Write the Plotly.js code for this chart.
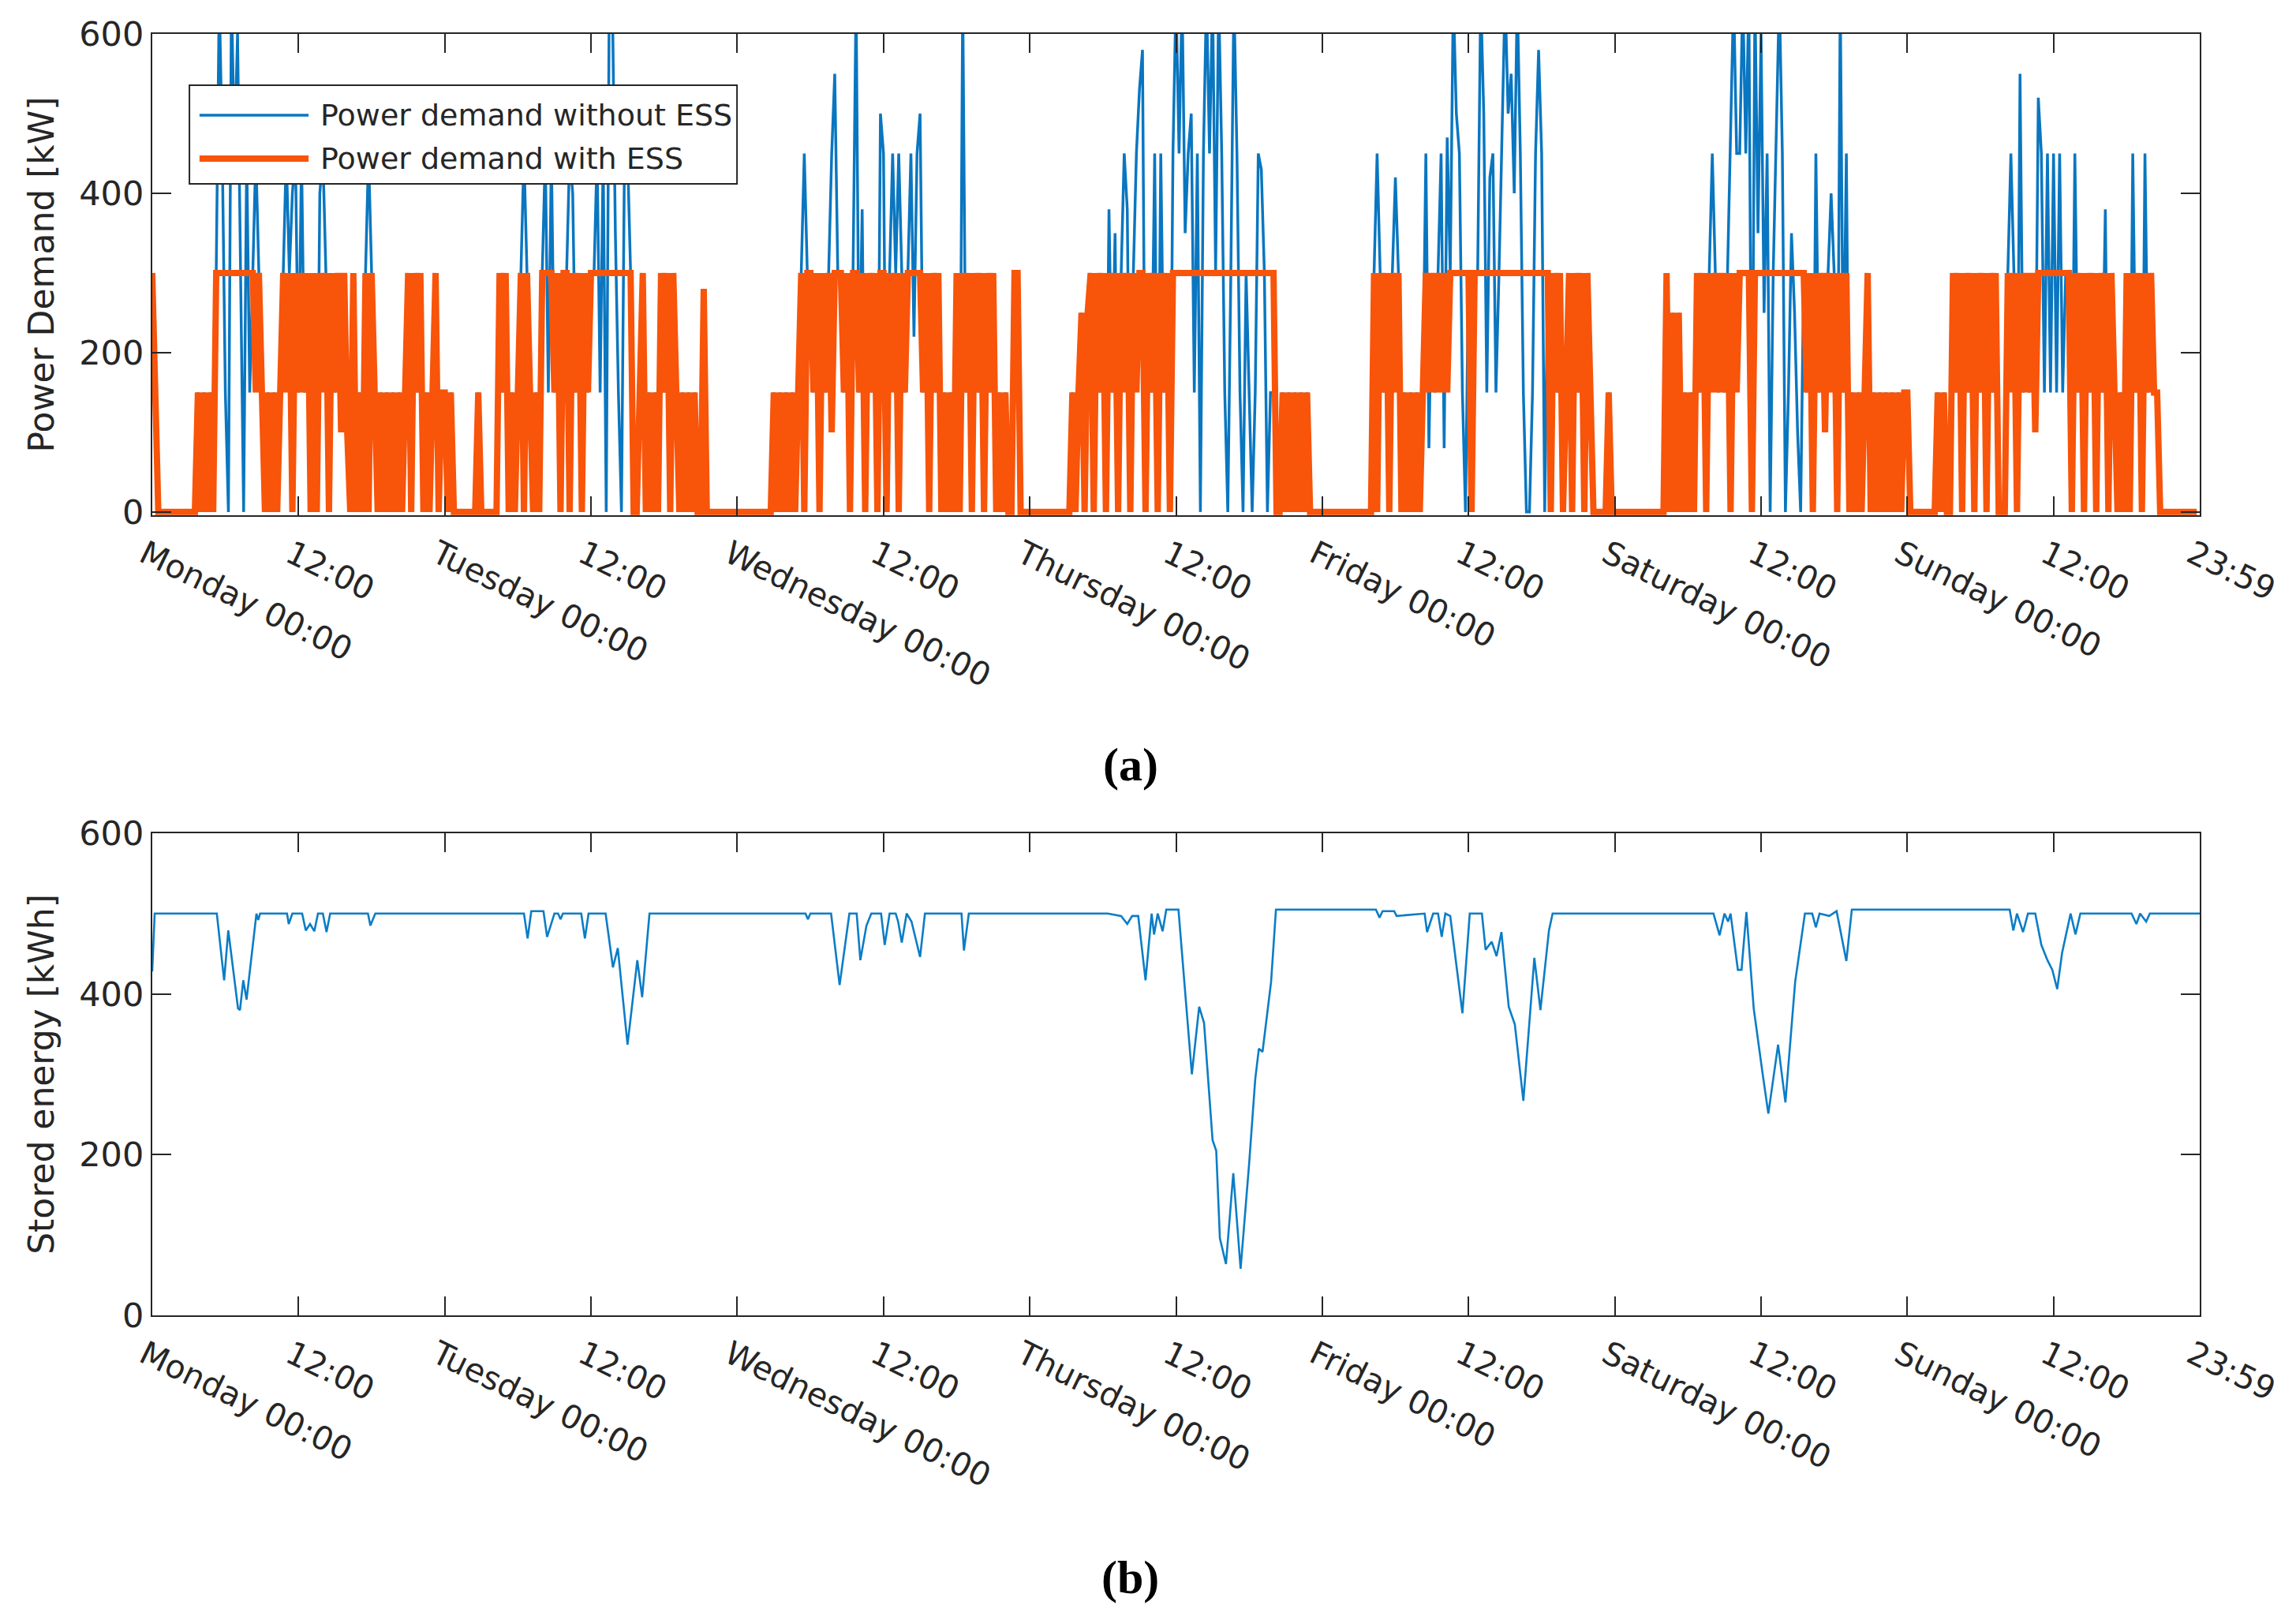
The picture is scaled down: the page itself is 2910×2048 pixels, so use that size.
<!DOCTYPE html>
<html>
<head>
<meta charset="utf-8">
<script src="https://cdn.plot.ly/plotly-3.0.1.min.js"></script>
<style>
html, body { margin: 0; padding: 0; background: #ffffff; }
#chart { width: 2910px; height: 2048px; }
</style>
</head>
<body>
<div id="chart"></div>
<script>
// Power demand, one value every 15 minutes (96 per day) [kW]
var withoutEssMon = [
  300,150,0,0,0,0,0,0,0,0,0,0,
  0,0,0,150,0,150,0,150,0,300,650,450,
  150,0,650,450,600,300,0,450,150,300,450,300,
  150,0,150,0,150,0,150,300,450,300,400,450,
  150,450,150,300,0,300,0,400,450,300,0,300,
  150,300,100,300,100,0,300,0,150,0,300,450,
  300,150,0,150,0,150,0,150,0,150,0,150,
  300,0,300,150,300,0,150,0,150,300,0,150];
var withEssMon = [
  300,150,0,0,0,0,0,0,0,0,0,0,
  0,0,0,150,0,150,0,150,0,300,300,300,
  300,300,300,300,300,300,300,300,300,300,150,300,
  150,0,150,0,150,0,150,300,150,300,0,300,
  150,300,150,300,0,300,0,300,150,300,0,300,
  150,300,100,300,100,0,300,0,150,0,300,0,
  300,150,0,150,0,150,0,150,0,150,0,150,
  300,0,300,150,300,0,150,0,150,300,0,150];

var withoutEssTue = [
  150,0,150,0,0,0,0,0,0,0,0,150,
  0,0,0,0,0,0,300,150,300,0,150,0,
  150,300,450,300,150,0,150,0,300,450,150,450,
  150,300,0,300,300,450,400,150,300,0,300,150,
  300,300,450,150,450,0,650,650,350,150,0,450,
  450,300,0,0,150,300,0,150,0,150,0,300,
  150,300,0,300,150,0,150,0,150,0,150,0,
  0,280,0,0,0,0,0,0,0,0,0,0];
var withEssTue = [
  150,0,150,0,0,0,0,0,0,0,0,150,
  0,0,0,0,0,0,300,150,300,0,150,0,
  150,300,0,300,150,0,150,0,300,300,300,300,
  150,300,0,300,300,0,300,150,300,0,300,150,
  300,300,300,300,300,300,300,300,300,300,300,300,
  300,300,0,0,150,300,0,150,0,150,0,300,
  150,300,0,300,150,0,150,0,150,0,150,0,
  0,280,0,0,0,0,0,0,0,0,0,0];

var withoutEssWed = [
  0,0,0,0,0,0,0,0,0,0,0,0,
  150,0,150,0,150,0,150,0,150,300,450,300,
  300,150,300,0,300,150,300,450,550,300,300,150,
  300,0,300,650,150,380,0,300,150,300,0,500,
  450,0,300,450,300,450,300,150,300,450,220,450,
  500,150,300,0,300,150,300,0,150,0,150,0,
  300,0,650,150,300,0,300,150,300,0,300,150,
  300,0,150,0,150,0,0,300,300,0,0,0];
var withEssWed = [
  0,0,0,0,0,0,0,0,0,0,0,0,
  150,0,150,0,150,0,150,0,150,300,0,300,
  300,150,300,0,300,150,300,100,300,300,300,150,
  300,0,300,300,150,300,0,300,150,300,0,300,
  300,0,300,150,300,0,300,150,300,300,300,300,
  300,150,300,0,300,150,300,0,150,0,150,0,
  300,0,300,150,300,0,300,150,300,0,300,150,
  300,0,150,0,150,0,0,300,300,0,0,0];

var withoutEssThu = [
  0,0,0,0,0,0,0,0,0,0,0,0,
  0,0,150,0,150,250,0,250,300,0,300,150,
  300,0,380,150,350,0,300,450,380,0,300,450,
  530,580,0,300,150,450,0,450,150,300,0,450,
  650,450,650,350,450,500,150,450,0,450,650,450,
  650,300,650,450,150,0,300,650,450,150,0,300,
  150,0,150,450,430,300,0,150,150,0,0,150,
  0,150,0,150,0,150,0,150,0,0,0,0];
var withEssThu = [
  0,0,0,0,0,0,0,0,0,0,0,0,
  0,0,150,0,150,250,0,250,300,0,300,150,
  300,0,300,150,300,0,300,150,300,0,300,150,
  300,300,0,300,150,300,0,300,150,300,0,300,
  300,300,300,300,300,300,300,300,300,300,300,300,
  300,300,300,300,300,300,300,300,300,300,300,300,
  300,300,300,300,300,300,300,300,300,0,0,150,
  0,150,0,150,0,150,0,150,0,0,0,0];

var withoutEssFri = [
  0,0,0,0,0,0,0,0,0,0,0,0,
  0,0,0,0,0,300,450,300,150,300,0,300,
  420,300,0,150,0,150,0,150,0,150,450,80,
  300,150,300,450,80,470,300,650,500,450,150,0,
  300,0,300,300,650,500,150,420,450,150,300,450,
  650,500,550,400,650,450,150,0,0,150,450,580,
  450,0,300,0,300,150,300,0,150,300,0,300,
  150,300,0,300,150,0,0,0,0,0,150,0];
var withEssFri = [
  0,0,0,0,0,0,0,0,0,0,0,0,
  0,0,0,0,0,300,0,300,150,300,0,300,
  150,300,0,150,0,150,0,150,0,150,300,150,
  300,150,300,150,300,150,300,300,300,300,300,300,
  300,0,300,300,300,300,300,300,300,300,300,300,
  300,300,300,300,300,300,300,300,300,300,300,300,
  300,300,300,0,300,150,300,0,150,300,0,300,
  150,300,0,300,150,0,0,0,0,0,150,0];

var withoutEssSat = [
  0,0,0,0,0,0,0,0,0,0,0,0,
  0,0,0,0,0,300,0,250,0,250,0,150,
  0,150,0,300,150,300,0,300,450,300,150,300,
  150,300,450,650,450,450,650,450,650,0,650,350,
  600,250,450,0,300,450,650,450,0,150,350,250,
  100,0,300,150,300,0,450,150,300,100,300,400,
  300,0,650,150,450,0,150,0,150,0,150,300,
  0,150,0,150,0,150,0,150,0,150,0,150];
var withEssSat = [
  0,0,0,0,0,0,0,0,0,0,0,0,
  0,0,0,0,0,300,0,250,0,250,0,150,
  0,150,0,300,150,300,0,300,150,300,150,300,
  150,300,0,300,150,300,300,300,300,0,300,300,
  300,300,300,300,300,300,300,300,300,300,300,300,
  300,300,300,150,300,0,300,150,300,100,300,150,
  300,0,300,150,300,0,150,0,150,0,150,300,
  0,150,0,150,0,150,0,150,0,150,0,150];

var withoutEssSun = [
  150,0,0,0,0,0,0,0,0,0,150,0,
  150,0,0,300,150,300,0,300,150,300,0,300,
  150,300,0,300,150,300,0,0,0,300,450,300,
  0,550,150,300,150,300,100,520,450,150,450,150,
  450,150,450,150,300,300,80,450,150,300,0,300,
  150,300,0,300,150,380,0,300,150,0,150,0,
  300,0,450,150,300,0,450,150,300,150,150,0,
  0,0,0,0,0,0,0,0,0,0,0,0];
var withEssSun = [
  150,0,0,0,0,0,0,0,0,0,150,0,
  150,0,0,300,150,300,0,300,150,300,0,300,
  150,300,0,300,150,300,0,0,0,300,150,300,
  0,300,150,300,150,300,100,300,300,300,300,300,
  300,300,300,300,300,300,0,300,150,300,0,300,
  150,300,0,300,150,300,0,300,150,0,150,0,
  300,0,300,150,300,0,300,150,300,150,150,0,
  0,0,0,0,0,0,0,0,0,0,0,0];

// Stored energy, points picked off the curve [hour of week, kWh]
var storedHours = [
  0,0.2,5.3,5.9,6.24,7.04,7.2,7.47,7.74,8.55,8.7,8.85,11.06,11.2,11.5,12.3,12.6,12.95,13.3,13.6,
  14.0,14.3,14.6,17.7,17.9,18.3,30.5,30.8,31.1,32.1,32.4,33.0,33.3,33.5,33.7,35.2,35.5,35.8,37.2,37.8,
  38.2,39.0,39.8,40.2,40.8,53.6,53.8,54.0,55.7,56.4,57.2,57.8,58.1,58.6,59.0,59.8,60.1,60.5,61.0,61.2,
  61.5,61.9,62.3,63.0,63.4,66.4,66.6,67.0,78.4,79.5,80.0,80.4,80.9,81.5,82.0,82.2,82.5,82.9,83.2,84.2,
  85.3,85.9,86.3,87.0,87.3,87.6,88.1,88.7,89.3,90.0,90.5,90.8,91.1,91.8,92.2,100.4,100.7,100.95,101.9,102.1,
  104.4,104.6,105.1,105.5,105.8,106.1,106.5,107.1,107.5,108.1,109.1,109.4,109.9,110.3,110.7,111.3,111.8,112.5,113.4,113.9,
  114.6,114.9,128.1,128.6,129.0,129.3,129.5,130.1,130.4,130.8,131.4,132.1,132.6,133.4,134.0,134.8,135.6,136.2,136.5,136.8,
  137.6,138.2,139.0,139.45,152.4,152.7,153.0,153.5,153.9,154.5,155.0,155.5,155.9,156.3,156.7,157.4,157.8,158.2,162.4,162.8,
  163.1,163.6,163.9,168];
var storedKWh = [
  428,500,500,417,479,382,380,417,393,500,492,500,500,487,500,500,479,487,478,500,
  500,477,500,500,485,500,500,469,503,503,471,500,500,493,500,500,469,500,500,433,
  457,337,442,396,500,500,493,500,500,411,500,500,442,485,500,500,461,500,500,490,
  464,500,490,446,500,500,454,500,500,497,487,497,497,417,500,474,500,478,505,505,
  300,384,364,218,205,96,64,177,58,189,294,332,328,415,505,505,495,503,503,497,
  500,477,500,500,471,500,497,427,376,500,500,455,465,447,477,384,362,267,445,380,
  479,500,500,473,500,490,500,430,430,502,382,304,251,337,265,415,500,500,483,500,
  497,503,441,505,505,479,500,477,500,500,461,442,430,406,451,500,474,500,500,487,
  500,490,500,500];

var tickHours = [0,12,24,36,48,60,72,84,96,108,120,132,144,156,167.983];
var tickLabels = ['Monday 00:00','12:00','Tuesday 00:00','12:00','Wednesday 00:00','12:00',
  'Thursday 00:00','12:00','Friday 00:00','12:00','Saturday 00:00','12:00',
  'Sunday 00:00','12:00','23:59'];
var powerTicks = [0,200,400,600];
var energyTicks = [0,200,400,600];

var withoutEss = [].concat(withoutEssMon, withoutEssTue, withoutEssWed, withoutEssThu,
  withoutEssFri, withoutEssSat, withoutEssSun);
var withEss = [].concat(withEssMon, withEssTue, withEssWed, withEssThu,
  withEssFri, withEssSat, withEssSun);
// 15 minute sampling
var demandHours = withEss.map(function (v, i) { return i * 0.25; });

var ink = '#262626';
var blue = '#0A76C0';
var orange = '#F8540A';
var xTickFont = {family: 'DejaVu Sans', size: 41, color: ink};
var yTickFont = {family: 'DejaVu Sans', size: 43, color: ink};

function xAxis(anchor) {
  return {
    anchor: anchor, domain: [0.0663, 0.9581], range: [0, 168],
    tickmode: 'array', tickvals: tickHours, ticktext: tickLabels, tickangle: 26,
    ticklabelstandoff: 8, ticklabelshift: -10,
    ticks: 'inside', ticklen: 24, tickwidth: 2, tickcolor: ink,
    showline: true, linecolor: ink, linewidth: 2, mirror: 'ticks',
    showgrid: false, zeroline: false, tickfont: xTickFont, automargin: false
  };
}

function yAxis(anchor, domain, range, ticks, title) {
  return {
    anchor: anchor, domain: domain, range: range,
    tickmode: 'array', tickvals: ticks,
    ticks: 'inside', ticklen: 24, tickwidth: 2, tickcolor: ink,
    showline: true, linecolor: ink, linewidth: 2, mirror: 'ticks',
    showgrid: false, zeroline: false, tickfont: yTickFont, automargin: false,
    title: {text: title, font: {family: 'DejaVu Sans', size: 44, color: ink}, standoff: 18}
  };
}

var traces = [
  {x: demandHours, y: withoutEss, xaxis: 'x', yaxis: 'y', type: 'scatter', mode: 'lines',
   name: 'Power demand without ESS', line: {color: blue, width: 3.5}},
  {x: demandHours, y: withEss, xaxis: 'x', yaxis: 'y', type: 'scatter', mode: 'lines',
   name: 'Power demand with ESS', line: {color: orange, width: 8}},
  {x: storedHours, y: storedKWh, xaxis: 'x2', yaxis: 'y2', type: 'scatter', mode: 'lines',
   name: 'Stored energy', line: {color: '#0B7DC6', width: 2.6}}
];

// legend box drawn by hand so the line samples get the long MATLAB look
var legendFont = {family: 'DejaVu Sans', size: 38, color: ink};
var shapes = [
  {type: 'rect', xref: 'paper', yref: 'paper', x0: 0.0825, x1: 0.3210, y0: 0.8862, y1: 0.9473,
   fillcolor: '#ffffff', line: {color: ink, width: 2}},
  {type: 'line', xref: 'paper', yref: 'paper', x0: 0.0869, x1: 0.1344, y0: 0.9287, y1: 0.9287,
   line: {color: blue, width: 3.5}},
  {type: 'line', xref: 'paper', yref: 'paper', x0: 0.0869, x1: 0.1344, y0: 0.9019, y1: 0.9019,
   line: {color: orange, width: 8}}
];

var annotations = [
  {xref: 'paper', yref: 'paper', x: 0.1388, y: 0.9287, xanchor: 'left', yanchor: 'middle',
   text: 'Power demand without ESS', showarrow: false, font: legendFont},
  {xref: 'paper', yref: 'paper', x: 0.1388, y: 0.9019, xanchor: 'left', yanchor: 'middle',
   text: 'Power demand with ESS', showarrow: false, font: legendFont},
  {xref: 'paper', yref: 'paper', x: 0.4924, y: 0.5269, xanchor: 'center', yanchor: 'middle',
   text: '<b>(a)</b>', showarrow: false, font: {family: 'Liberation Serif', size: 60, color: '#000000'}},
  {xref: 'paper', yref: 'paper', x: 0.4924, y: 0.0240, xanchor: 'center', yanchor: 'middle',
   text: '<b>(b)</b>', showarrow: false, font: {family: 'Liberation Serif', size: 60, color: '#000000'}}
];

var layout = {
  width: 2910, height: 2048,
  margin: {l: 0, r: 0, t: 0, b: 0},
  paper_bgcolor: '#ffffff', plot_bgcolor: '#ffffff',
  showlegend: false,
  xaxis: xAxis('y'),
  yaxis: yAxis('x', [0.6812, 0.979], [-4, 600], powerTicks, 'Power Demand [kW]'),
  xaxis2: xAxis('y2'),
  yaxis2: yAxis('x2', [0.186, 0.4844], [0, 600], energyTicks, 'Stored energy [kWh]'),
  shapes: shapes,
  annotations: annotations
};

Plotly.newPlot('chart', traces, layout, {displayModeBar: false, staticPlot: true});
</script>
</body>
</html>
